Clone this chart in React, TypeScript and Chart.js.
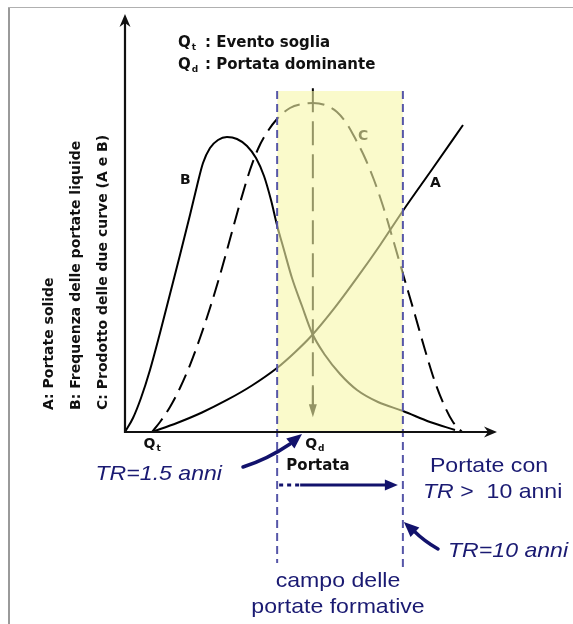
import React, { useEffect, useRef } from "react";
import { Chart, registerables } from "chart.js";
Chart.register(...registerables);

const W = 573;
const H = 624;

// ---- data (arbitrary units: Portata on x, relative magnitude on y) ----
// A: Portate solide
const aX = [7.26, 13.98, 20.7, 27.42, 34.14, 40.86, 45.7, 50.27, 56.45, 62.63, 68.55, 74.73, 82.8, 90.86];
const aY = [0, 2.73, 5.91, 9.7, 14.09, 19.39, 24.18, 29.33, 37.76, 47.15, 56.61, 67.06, 80.0, 93.03];
// B: Frequenza delle portate liquide
const bX = [0, 2.15, 4.3, 6.72, 9.41, 12.1, 14.78, 17.47, 19.35, 20.97, 22.85, 25.0, 27.42, 30.11, 32.8, 35.22, 37.37, 39.25, 40.86, 42.74, 44.89, 47.58, 50.27, 53.76, 57.8, 62.37, 68.01, 74.73, 81.99, 88.71];
const bY = [0, 4.24, 10.3, 18.79, 30.0, 41.82, 53.64, 65.76, 74.55, 81.52, 86.06, 88.48, 89.39, 88.79, 86.67, 83.03, 77.58, 70.3, 62.73, 55.15, 46.67, 38.18, 30.0, 23.33, 17.58, 12.73, 9.09, 6.36, 3.03, 0.61];
// C: Prodotto delle due curve (A e B)
const cX = [7.26, 9.41, 12.1, 14.78, 17.47, 20.16, 22.85, 25.54, 28.23, 30.91, 33.6, 35.75, 37.9, 40.86, 44.35, 47.58, 50.54, 53.76, 56.99, 59.68, 62.1, 64.52, 66.94, 69.35, 71.77, 74.73, 77.96, 80.65, 83.33, 86.02, 88.17, 90.59];
const cY = [0, 3.03, 7.58, 13.33, 20.3, 28.48, 37.58, 47.58, 58.48, 69.39, 79.39, 85.76, 90.3, 94.85, 98.18, 99.39, 99.7, 99.09, 96.97, 93.33, 88.48, 83.03, 76.36, 68.48, 59.39, 47.88, 35.45, 24.85, 15.15, 7.58, 3.03, 0];

const Qt = 7.3; // evento soglia
const Qd = 50.5; // portata dominante
const Q_TR15 = 40.9; // TR = 1.5 anni
const Q_TR10 = 74.7; // TR = 10 anni
const bandTop = 103.3;
const qdTop = 104.2;
const qdArrowY = 4.5;
const xAxisEnd = 100;
const yAxisEnd = 126.7;

// scale window (origin of the diagram at the axes crossing)
const X_MIN = -33.6;
const X_MAX = 120.43;
const Y_MIN = -58.18;
const Y_MAX = 130.91;

const NAVY = "#1a1a72";
const NAVY_ARROW = "#12126c";
const BOLD = "DejaVu Sans";
const SANS = "'Liberation Sans', Arial, sans-serif";

const pts = (xs: number[], ys: number[]) => xs.map((x, i) => ({ x, y: ys[i] }));

function txt(ctx: CanvasRenderingContext2D, s: string, x: number, y: number, font: string, color: string, align: CanvasTextAlign = "left", sx = 1) {
  ctx.save();
  ctx.font = font;
  ctx.fillStyle = color;
  ctx.textBaseline = "alphabetic";
  ctx.textAlign = align;
  ctx.translate(x, y);
  ctx.scale(sx, 1);
  ctx.fillText(s, 0, 0);
  ctx.restore();
}

function qSub(ctx: CanvasRenderingContext2D, sub: string, x: number, y: number, size: number, align: "left" | "center" = "left") {
  ctx.save();
  ctx.font = `bold ${size}px ${BOLD}`;
  const wq = ctx.measureText("Q").width;
  ctx.font = `bold ${Math.round(size * 0.62)}px ${BOLD}`;
  const ws = ctx.measureText(sub).width;
  const x0 = align === "center" ? x - (wq + ws + 1) / 2 : x;
  ctx.fillStyle = "#111";
  ctx.textBaseline = "alphabetic";
  ctx.font = `bold ${size}px ${BOLD}`;
  ctx.fillText("Q", x0, y);
  ctx.font = `bold ${Math.round(size * 0.62)}px ${BOLD}`;
  ctx.fillText(sub, x0 + wq + 1, y + size * 0.22);
  ctx.restore();
}

function arrowHead(ctx: CanvasRenderingContext2D, tx: number, ty: number, fx: number, fy: number, len: number, half: number, color: string) {
  const ang = Math.atan2(ty - fy, tx - fx);
  const bx = tx - len * Math.cos(ang);
  const by = ty - len * Math.sin(ang);
  const nx = -Math.sin(ang);
  const ny = Math.cos(ang);
  ctx.save();
  ctx.fillStyle = color;
  ctx.beginPath();
  ctx.moveTo(tx, ty);
  ctx.lineTo(bx + nx * half, by + ny * half);
  ctx.lineTo(bx - nx * half, by - ny * half);
  ctx.closePath();
  ctx.fill();
  ctx.restore();
}

const annotations = {
  id: "annotations",
  beforeDraw(chart: any) {
    const ctx = chart.ctx as CanvasRenderingContext2D;
    ctx.save();
    ctx.fillStyle = "#fff";
    ctx.fillRect(0, 0, W, H);
    ctx.fillStyle = "#9a9a9a";
    ctx.fillRect(8, 7, 2, H - 7);
    ctx.fillStyle = "#b0b0b0";
    ctx.fillRect(8, 7, W - 8, 1);
    ctx.restore();
  },
  beforeDatasetsDraw(chart: any) {
    const ctx = chart.ctx as CanvasRenderingContext2D;
    const xs = chart.scales.x;
    const ys = chart.scales.y;
    // arrow head of Qd line (tinted by the band afterwards)
    const qx = xs.getPixelForValue(Qd);
    const qy = ys.getPixelForValue(qdArrowY);
    arrowHead(ctx, qx, qy, qx, qy - 20, 13, 4, "#000");
    ctx.save();
    ctx.strokeStyle = "#000";
    ctx.lineWidth = 2;
    ctx.beginPath();
    ctx.moveTo(qx, qy - 30);
    ctx.lineTo(qx, qy - 10);
    ctx.stroke();
    ctx.restore();
    txt(ctx, "C", 358, 140, `bold 14px ${BOLD}`, "#000");
  },
  afterDatasetsDraw(chart: any) {
    const ctx = chart.ctx as CanvasRenderingContext2D;
    const xs = chart.scales.x;
    const ys = chart.scales.y;
    const x0 = xs.getPixelForValue(0);
    const y0 = ys.getPixelForValue(0);
    const xe = xs.getPixelForValue(xAxisEnd);
    const ye = ys.getPixelForValue(yAxisEnd);

    // axes
    ctx.save();
    ctx.strokeStyle = "#111";
    ctx.lineWidth = 2.2;
    ctx.beginPath();
    ctx.moveTo(x0, y0 + 1);
    ctx.lineTo(x0, ye + 6);
    ctx.moveTo(x0 - 1, y0);
    ctx.lineTo(xe - 6, y0);
    ctx.stroke();
    ctx.fillStyle = "#111";
    ctx.beginPath();
    ctx.moveTo(x0, ye);
    ctx.lineTo(x0 - 5.5, ye + 13);
    ctx.lineTo(x0, ye + 9);
    ctx.lineTo(x0 + 5.5, ye + 13);
    ctx.closePath();
    ctx.fill();
    ctx.beginPath();
    ctx.moveTo(xe, y0);
    ctx.lineTo(xe - 13, y0 - 5.5);
    ctx.lineTo(xe - 9, y0);
    ctx.lineTo(xe - 13, y0 + 5.5);
    ctx.closePath();
    ctx.fill();
    ctx.restore();

    // curve labels
    txt(ctx, "B", 180, 184, `bold 14px ${BOLD}`, "#111");
    txt(ctx, "A", 430, 187, `bold 14px ${BOLD}`, "#111");

    // legend at top
    qSub(ctx, "t", 178, 47, 15);
    txt(ctx, ": Evento soglia", 205, 47, `bold 15px ${BOLD}`, "#111");
    qSub(ctx, "d", 178, 69, 15);
    txt(ctx, ": Portata dominante", 205, 69, `bold 15px ${BOLD}`, "#111");

    // rotated axis descriptions
    const rot = (s: string, bx: number, by: number) => {
      ctx.save();
      ctx.translate(bx, by);
      ctx.rotate(-Math.PI / 2);
      ctx.font = `bold 14px ${BOLD}`;
      ctx.fillStyle = "#111";
      ctx.textBaseline = "alphabetic";
      ctx.fillText(s, 0, 0);
      ctx.restore();
    };
    rot("A: Portate solide", 53, 410);
    rot("B: Frequenza delle portate liquide", 80, 410);
    rot("C: Prodotto delle due curve (A e B)", 107, 410);

    // x-axis labels
    qSub(ctx, "t", xs.getPixelForValue(Qt), 448, 14, "center");
    qSub(ctx, "d", xs.getPixelForValue(Qd) + 2, 448, 14, "center");
    txt(ctx, "Portata", 318, 470, `bold 15px ${BOLD}`, "#111", "center");

    // navy annotations
    const f = `21px ${SANS}`;
    const fi = `italic 21px ${SANS}`;
    const sx = 1.1;
    txt(ctx, "TR=1.5 anni", 222, 480, fi, NAVY, "right", sx);
    txt(ctx, "Portate con", 489, 472, f, NAVY, "center", sx);
    ctx.save();
    ctx.font = fi;
    const wTR = ctx.measureText("TR").width * sx;
    ctx.restore();
    txt(ctx, "TR", 423, 498, fi, NAVY, "left", sx);
    txt(ctx, " >  10 anni", 423 + wTR, 498, f, NAVY, "left", sx);
    txt(ctx, "TR=10 anni", 448, 557, fi, NAVY, "left", sx);
    txt(ctx, "campo delle", 338, 587, f, NAVY, "center", sx);
    txt(ctx, "portate formative", 338, 613, f, NAVY, "center", sx);

    const p15 = xs.getPixelForValue(Q_TR15);
    const p10 = xs.getPixelForValue(Q_TR10);

    ctx.save();
    ctx.strokeStyle = NAVY_ARROW;
    ctx.lineCap = "round";
    // TR=1.5 arrow
    ctx.lineWidth = 3.5;
    ctx.beginPath();
    ctx.moveTo(243, 467);
    ctx.quadraticCurveTo(268, 459, 290, 444);
    ctx.stroke();
    arrowHead(ctx, 302, 434, 286, 447, 15, 6.5, NAVY_ARROW);
    // TR=10 arrow
    ctx.beginPath();
    ctx.moveTo(438, 549);
    ctx.quadraticCurveTo(424, 541, 414, 531);
    ctx.stroke();
    arrowHead(ctx, p10 + 1, 522, 418, 535, 15, 6.5, NAVY_ARROW);
    // horizontal range arrow
    ctx.lineCap = "butt";
    ctx.lineWidth = 3;
    ctx.setLineDash([4, 4]);
    ctx.beginPath();
    ctx.moveTo(p15 + 2, 485);
    ctx.lineTo(p15 + 22, 485);
    ctx.stroke();
    ctx.setLineDash([]);
    ctx.beginPath();
    ctx.moveTo(p15 + 23, 485);
    ctx.lineTo(p10 - 15, 485);
    ctx.stroke();
    arrowHead(ctx, p10 - 5, 485, p10 - 30, 485, 13, 5.5, NAVY_ARROW);
    ctx.restore();
  },
};

export default function App() {
  const ref = useRef<HTMLCanvasElement | null>(null);
  useEffect(() => {
    if (!ref.current) return;
    const line = (data: any[], extra: any) => ({
      type: "line",
      data,
      borderColor: "#000",
      borderWidth: 2,
      pointRadius: 0,
      fill: false,
      cubicInterpolationMode: "monotone",
      ...extra,
    });
    const chart = new Chart(ref.current, {
      type: "line",
      data: {
        datasets: [
          line(pts(aX, aY), { label: "A: Portate solide", order: 10 }),
          line(pts(bX, bY), { label: "B: Frequenza delle portate liquide", order: 10 }),
          line(pts(cX, cY), { label: "C: Prodotto delle due curve (A e B)", order: 10, borderDash: [17, 8] }),
          line([{ x: Qd, y: qdTop }, { x: Qd, y: qdArrowY + 3 }], { label: "Qd", order: 10, borderDash: [24, 9], cubicInterpolationMode: "default" }),
          line([{ x: Q_TR15, y: bandTop }, { x: Q_TR10, y: bandTop }], {
            label: "campo delle portate formative",
            order: 5,
            borderWidth: 0,
            borderColor: "rgba(0,0,0,0)",
            backgroundColor: "rgba(246,246,168,0.6)",
            fill: "origin",
            cubicInterpolationMode: "default",
          }),
          line([{ x: Q_TR15, y: bandTop }, { x: Q_TR15, y: -39.7 }], { label: "TR=1.5", order: 1, borderColor: "#5656a8", borderDash: [8, 5], cubicInterpolationMode: "default" }),
          line([{ x: Q_TR10, y: bandTop }, { x: Q_TR10, y: -41.2 }], { label: "TR=10", order: 1, borderColor: "#5656a8", borderDash: [8, 5], cubicInterpolationMode: "default" }),
        ] as any,
      },
      options: {
        responsive: false,
        animation: false,
        devicePixelRatio: 1,
        layout: { padding: 0 },
        plugins: { legend: { display: false }, title: { display: false }, tooltip: { enabled: false } },
        scales: {
          x: { type: "linear", min: X_MIN, max: X_MAX, display: false },
          y: { type: "linear", min: Y_MIN, max: Y_MAX, display: false },
        },
      },
      plugins: [annotations],
    } as any);
    return () => chart.destroy();
  }, []);
  return (
    <div style={{ position: "absolute", left: 0, top: 0, width: W, height: H }}>
      <canvas ref={ref} width={W} height={H} style={{ width: W, height: H, display: "block" }} />
    </div>
  );
}
